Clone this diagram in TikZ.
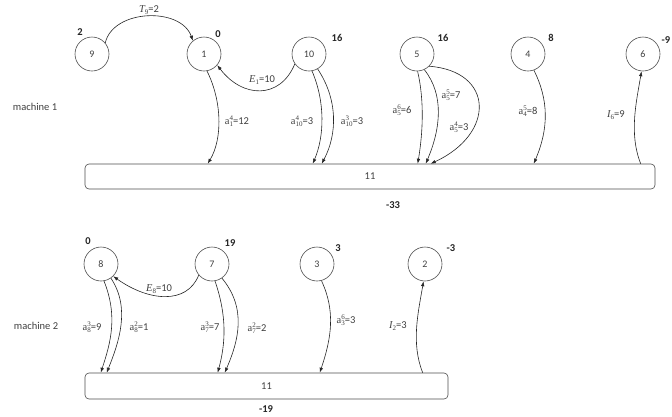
\documentclass[tikz,border=0pt]{standalone}
\usepackage{fontspec}
\setmainfont{Carlito}
\newfontfamily\tms{Liberation Serif}
\usetikzlibrary{arrows.meta}
\newcommand\mysubsup[2]{\setbox0=\hbox{\tms\scriptsize #1}\setbox2=\hbox{\tms\scriptsize #2}\rlap{\raise-0.35ex\copy0}\rlap{\raise0.95ex\copy2}\hskip\ifdim\wd0>\wd2 \wd0\else\wd2\fi\relax}
\newcommand\alab[3]{{\tms a}\mysubsup{#1}{#2}#3}
\newcommand\ilab[3]{{\tms\itshape #1}\raisebox{-0.35ex}{\tms\scriptsize #2}#3}
\begin{document}
\begin{tikzpicture}[x=1pt,y=-1pt,
  st/.style={circle,draw=black!70,line width=0.6pt,minimum size=34pt,inner sep=0pt,text=black!75,font=\fontsize{10}{12}\selectfont},
  barbox/.style={draw=black!70,line width=0.6pt,rounded corners=4pt,inner sep=0pt,text=black!75,font=\fontsize{10.5}{12}\selectfont},
  edge/.style={draw=black!85,line width=0.6pt,-{Latex[length=5pt,width=3.6pt]}},
  num/.style={font=\fontsize{10.5}{12}\selectfont\bfseries,text=black!85,inner sep=0pt},
  lbl/.style={font=\fontsize{10.5}{12}\selectfont,text=black!75,inner sep=0pt},
  mach/.style={font=\fontsize{10.5}{12}\selectfont,text=black!75,inner sep=0pt}]
\useasboundingbox (0,0) rectangle (672,416);
% machine 1
\node[mach] (m1) at (35,107) {machine 1};
\node[st] (n9) at (92,54) {9};
\node[st] (n1) at (204,54) {1};
\node[st] (n10) at (309,54) {10};
\node[st] (n5) at (417,54) {5};
\node[st] (n4) at (528,54) {4};
\node[st] (n6) at (643,54) {6};
\node[num] (v9) at (80,32) {2};
\node[num] (v1) at (218,34) {0};
\node[num] (v10) at (337,38) {16};
\node[num] (v5) at (443,38) {16};
\node[num] (v4) at (551,38) {8};
\node[num] (v6) at (666,40) {-9};
\node[barbox,minimum width=570pt,minimum height=25pt] (bar1) at (370,176.5) {11};
\node[num] (v11a) at (393,205) {-33};
% edges machine 1
\draw[edge] (n9.40) .. controls +(8,-34) and +(-12,-34) .. (n1.130);
\node[lbl] (lt9) at (149,10) {\ilab{T}{9}{=2}};
\draw[edge] (n10.215) .. controls +(-15,36) and +(25,33) .. (n1.-40);
\node[lbl] (le1) at (262,80) {\ilab{E}{1}{=10}};
\draw[edge] (n1.-80) .. controls +(15,30) and +(15,-25) .. ([xshift=123pt]bar1.north west);
\node[lbl] (la14) at (237,121) {\alab{1}{4}{=12}};
\draw[edge] (n10.-80) .. controls +(13,30) and +(12,-28) .. ([xshift=228pt]bar1.north west);
\node[lbl] (la104) at (302,121) {\alab{10}{4}{=3}};
\draw[edge] (n10.-60) .. controls +(20,30) and +(16,-30) .. ([xshift=237pt]bar1.north west);
\node[lbl] (la103) at (352,121) {\alab{10}{3}{=3}};
\draw[edge] (n5.-88) .. controls +(7,30) and +(5,-30) .. ([xshift=333pt]bar1.north west);
\node[lbl] (la56) at (402,110) {\alab{5}{6}{=6}};
\draw[edge] (n5.-65) .. controls +(20,25) and +(15,-35) .. ([xshift=341pt]bar1.north west);
\node[lbl] (la55) at (451,95) {\alab{5}{5}{=7}};
\draw[edge] (n5.-45) .. controls +(65,5) and +(65,-30) .. ([xshift=346pt]bar1.north west);
\node[lbl] (la54) at (459,127) {\alab{5}{4}{=3}};
\draw[edge] (n4.-70) .. controls +(15,30) and +(15,-35) .. ([xshift=449pt]bar1.north west);
\node[lbl] (la45) at (528,111) {\alab{4}{5}{=8}};
\draw[edge] ([xshift=556pt]bar1.north west) .. controls +(-12,-30) and +(-5,30) .. (n6.-95);
\node[lbl] (li6) at (616,115) {\ilab{I}{6}{=9}};
% machine 2
\node[mach] (m2) at (36,326) {machine 2};
\node[st] (n8) at (101,264) {8};
\node[st] (n7) at (212,264) {7};
\node[st] (n3) at (317,264) {3};
\node[st] (n2) at (425,264) {2};
\node[num] (v8) at (88,241) {0};
\node[num] (v7) at (230,243) {19};
\node[num] (v3) at (338,248) {3};
\node[num] (v2) at (451,248) {-3};
\node[barbox,minimum width=363pt,minimum height=26pt] (bar2) at (266.5,386) {11};
\node[num] (v11b) at (266,409) {-19};
% edges machine 2
\draw[edge] (n7.220) .. controls +(-12,30) and +(35,25) .. (n8.-45);
\node[lbl] (le8) at (159,289) {\ilab{E}{8}{=10}};
\draw[edge] (n8.-80) .. controls +(14,35) and +(10,-30) .. ([xshift=16pt]bar2.north west);
\node[lbl] (la83) at (92,327) {\alab{8}{3}{=9}};
\draw[edge] (n8.-55) .. controls +(20,30) and +(12,-30) .. ([xshift=22pt]bar2.north west);
\node[lbl] (la82) at (139,327) {\alab{8}{2}{=1}};
\draw[edge] (n7.-80) .. controls +(12,35) and +(8,-30) .. ([xshift=133pt]bar2.north west);
\node[lbl] (la73) at (210,327) {\alab{7}{3}{=7}};
\draw[edge] (n7.-55) .. controls +(25,30) and +(14,-32) .. ([xshift=140pt]bar2.north west);
\node[lbl] (la72) at (257,328) {\alab{7}{2}{=2}};
\draw[edge] (n3.-75) .. controls +(14,30) and +(12,-35) .. ([xshift=235pt]bar2.north west);
\node[lbl] (la36) at (346,320) {\alab{3}{6}{=3}};
\draw[edge] ([xshift=338pt]bar2.north west) .. controls +(-12,-30) and +(-5,30) .. (n2.-95);
\node[lbl] (li2) at (398,326) {\ilab{I}{2}{=3}};
\end{tikzpicture}
\end{document}
